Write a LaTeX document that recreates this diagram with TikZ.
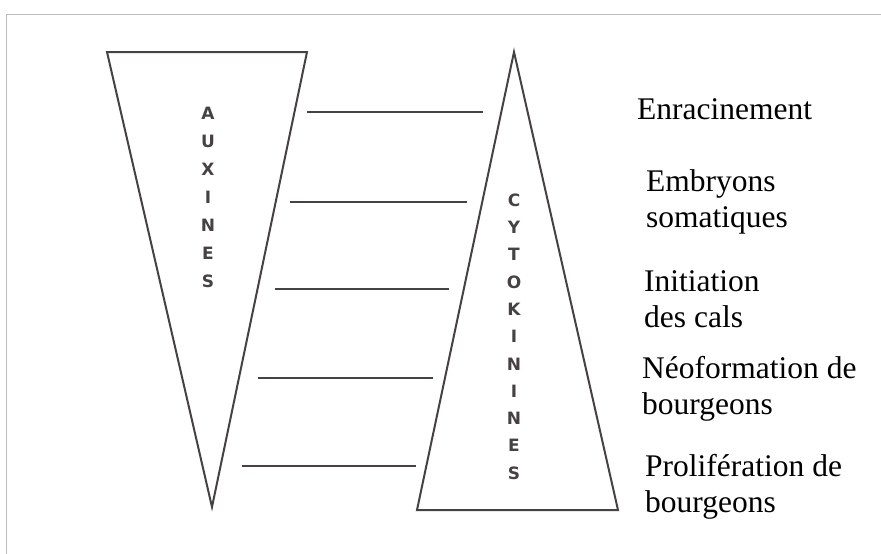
\documentclass[tikz,border=0pt]{standalone}
\usepackage{fontspec}
\setmainfont{Liberation Serif}
\newfontfamily\capsfont{DejaVu Sans}
\usepackage{xcolor}
\definecolor{ink}{RGB}{70,66,68}
\definecolor{frame}{RGB}{190,190,190}
\usetikzlibrary{positioning}
\tikzset{
  cone/.style={draw=ink,line width=2pt,line join=miter},
  rung/.style={draw=ink,line width=1.6pt},
  letter/.style={text=ink,font=\fontsize{17}{17}\selectfont\capsfont\bfseries,inner sep=0pt},
  effect/.style={anchor=base west,align=left,inner sep=0pt,%
    font=\fontsize{31.5}{36}\selectfont},
}

\begin{document}
\begin{tikzpicture}[x=1pt,y=-1pt]
\useasboundingbox (0,0) rectangle (881,554);
% cadre
\draw[frame,line width=0.8pt] (6,554)--(6,14)--(881,14);
% auxines (pointe en bas)
\draw[cone] (107,52)--(307,52)--(212,507)--cycle;
\foreach \l [count=\i] in {A,U,X,I,N,E,S}
  \node[letter] (aux\i) at (208,113+28*\i-28) {\l};
% cytokinines (pointe en haut)
\draw[cone] (514,52)--(618,510)--(417,510)--cycle;
\foreach \l [count=\i] in {C,Y,T,O,K,I,N,I,N,E,S}
  \node[letter] (cyt\i) at (514,200+27.3*\i-27.3) {\l};
% traits
\draw[rung] (307,112)--(483,112);
\draw[rung] (290,202)--(467,202);
\draw[rung] (275,289)--(449,289);
\draw[rung] (258,378)--(433,378);
\draw[rung] (242,466)--(416,466);
% effets (base = derniere ligne)
\node[effect] (enr) at (637,119) {Enracinement};
\node[effect] (emb) at (646,227) {Embryons\\somatiques};
\node[effect] (ini) at (644,327) {Initiation\\des cals};
\node[effect] (neo) at (642,414) {Néoformation de\\bourgeons};
\node[effect] (pro) at (645,512) {Prolifération de\\bourgeons};
\end{tikzpicture}
\end{document}
